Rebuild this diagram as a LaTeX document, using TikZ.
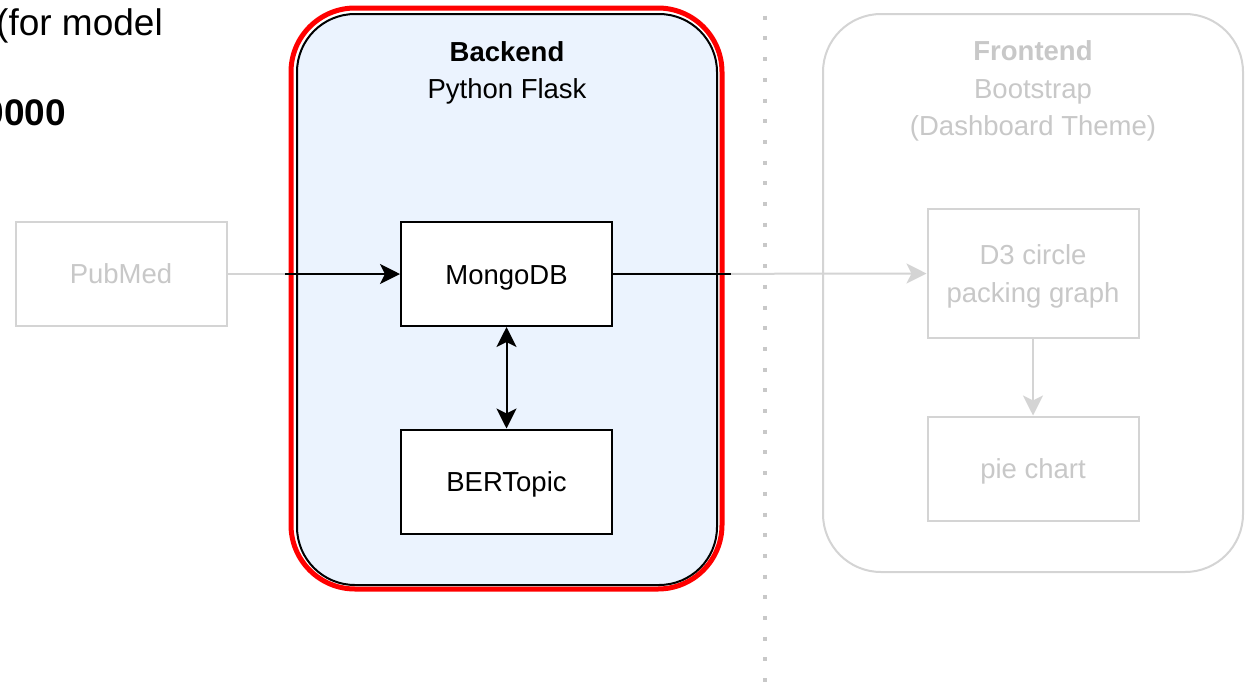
\documentclass[tikz,border=0pt]{standalone}
\usepackage{fontspec}
\setmainfont{Liberation Sans}
\usetikzlibrary{arrows.meta}
\definecolor{faded}{RGB}{212,212,212}
\definecolor{fadedtext}{RGB}{200,200,200}
\definecolor{bgblue}{RGB}{235,243,254}
\definecolor{hired}{RGB}{255,0,0}
\begin{document}
\begin{tikzpicture}[x=1pt,y=-1pt,
  font=\fontsize{27.5pt}{37.5pt}\selectfont,
  box/.style={draw=black, line width=2pt, fill=white, minimum width=211pt, minimum height=104pt, inner sep=0pt, align=center, text height=20pt, text depth=0pt},
  fbox/.style={draw=faded, line width=2pt, fill=white, text=fadedtext, minimum width=211pt, minimum height=104pt, inner sep=0pt, align=center, text height=20pt, text depth=0pt},
  container/.style={rounded corners=58pt, inner sep=0pt},
  title/.style={align=center, inner sep=0pt},
  blk/.style={draw=black, line width=2pt},
  gry/.style={draw=faded, line width=2pt},
  tip/.tip={Stealth[length=20pt,width=20pt,inset=5pt]},
  btip/.style={-tip},
  gtip/.style={-{tip[color=faded]}}
]
\useasboundingbox (0,0) rectangle (1245,689);
\clip (0,0) rectangle (1245,689);

% cropped text at top left
\node[anchor=base east, inner sep=0pt, font=\fontsize{37pt}{40pt}\selectfont] (t1) at (163,35) {(for model};
\node[anchor=base east, inner sep=0pt, font=\fontsize{37pt}{40pt}\selectfont\bfseries] (t2) at (66,125) {0000};

% dotted separator
\coordinate (sepTop) at (765,-5);
\coordinate (sepBot) at (765,700);
\draw[fadedtext, line width=4pt, dash pattern=on 4pt off 16.7pt] (sepTop) -- (sepBot);

% backend container
\draw[hired, line width=5pt, rounded corners=64pt] (291,8) rectangle (722,589);
\node[container, draw=black, line width=2pt, fill=bgblue, minimum width=420pt, minimum height=571pt] (backend) at (507,299.5) {};
\node[title] (btitle) at (507,73) {\textbf{Backend}\\Python Flask};

% frontend container
\node[container, draw=faded, line width=2pt, fill=white, minimum width=420pt, minimum height=558pt] (frontend) at (1033,293) {};
\node[title, text=fadedtext] (ftitle) at (1033,91) {\textbf{Frontend}\\Bootstrap\\(Dashboard Theme)};

% nodes
\node[fbox, text height=19pt] (pub) at (121,274) {PubMed};
\node[box] (mongo) at (506.5,274) {MongoDB};
\node[box] (bert) at (506.5,481.5) {BERTopic};
\node[draw=faded, line width=2pt, fill=white, text=fadedtext, minimum width=211pt, minimum height=129pt, inner sep=0pt, align=center, text depth=0pt] (d3) at (1033,273.5) {D3 circle\\packing graph};
\node[fbox] (pie) at (1033,468.5) {pie chart};

% connectors
\coordinate (cutA) at (285,274);
\coordinate (cutB) at (731,274);
\draw[gry] (pub.east) -- (cutA);
\draw[blk, btip] (cutA) -- (mongo.west);
\draw[gry, gtip] (mongo.east) -- (d3.west);
\draw[blk] (mongo.east) -- (cutB);
\draw[blk, tip-tip] (mongo.south) -- (bert.north);
\draw[gry, gtip] (d3.south) -- (pie.north);
\end{tikzpicture}
\end{document}
